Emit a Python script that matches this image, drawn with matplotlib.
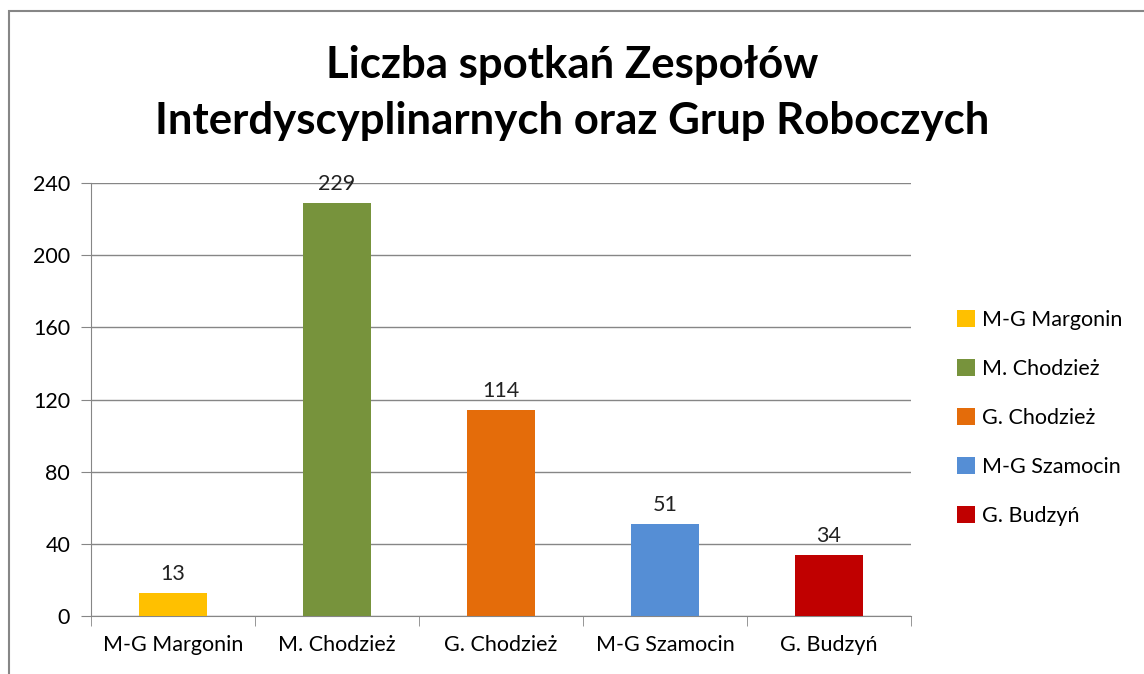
import matplotlib.pyplot as plt
from matplotlib.patches import Rectangle, Patch

categories = ['M-G Margonin', 'M. Chodzież', 'G. Chodzież', 'M-G Szamocin', 'G. Budzyń']
values = [13, 229, 114, 51, 34]
colors = ['#FFC000', '#77933C', '#E46C0A', '#558ED5', '#C00000']
yticks = [0, 40, 80, 120, 160, 200, 240]

plt.rcParams['font.family'] = ['Lato', 'DejaVu Sans']

fig = plt.figure(figsize=(11.44, 6.74), dpi=100)
fig.patches.append(Rectangle((9 / 1144, -0.01), 1.02, 1 - 11 / 674 + 0.01,
                             transform=fig.transFigure, fill=False,
                             edgecolor='#868686', linewidth=1.5))

ax = fig.add_axes([91 / 1144, 1 - 616 / 674, (911 - 91) / 1144, (616 - 183) / 674])
x = range(len(categories))
ax.bar(x, values, width=0.41, color=colors, zorder=3)
for xi, v in zip(x, values):
    ax.text(xi, v + 5, str(v), ha='center', va='bottom', fontsize=15.5, color='#222222')

ax.set_xlim(-0.5, len(categories) - 0.5)
ax.set_ylim(0, 240)
ax.set_yticks(yticks)
ax.set_xticks(list(x))
ax.set_xticklabels(categories)
ax.set_xticks([i - 0.5 for i in range(len(categories) + 1)], minor=True)
ax.tick_params(axis='x', which='major', length=0, pad=14, labelsize=15.5)
ax.tick_params(axis='x', which='minor', length=7, color='#868686')
ax.tick_params(axis='y', length=7, color='#868686', labelsize=15.5, pad=8)
ax.grid(axis='y', color='#868686', linewidth=1, zorder=0)
for s in ['top', 'right']:
    ax.spines[s].set_visible(False)
for s in ['left', 'bottom']:
    ax.spines[s].set_color('#868686')

fig.text(0.5, 1 - 65 / 674, 'Liczba spotkań Zespołów', ha='center', va='center',
         fontsize=31.5, fontweight='bold')
fig.text(0.5, 1 - 121 / 674, 'Interdyscyplinarnych oraz Grup Roboczych', ha='center',
         va='center', fontsize=31.5, fontweight='bold')

handles = [Patch(facecolor=c, label=l) for c, l in zip(colors, categories)]
fig.legend(handles=handles, loc='center left', bbox_to_anchor=(938 / 1144, 1 - 418 / 674),
           frameon=False, fontsize=15.5, handlelength=0.8, handleheight=0.8,
           handletextpad=0.35, labelspacing=1.35)

fig.savefig('out.png', dpi=100)
